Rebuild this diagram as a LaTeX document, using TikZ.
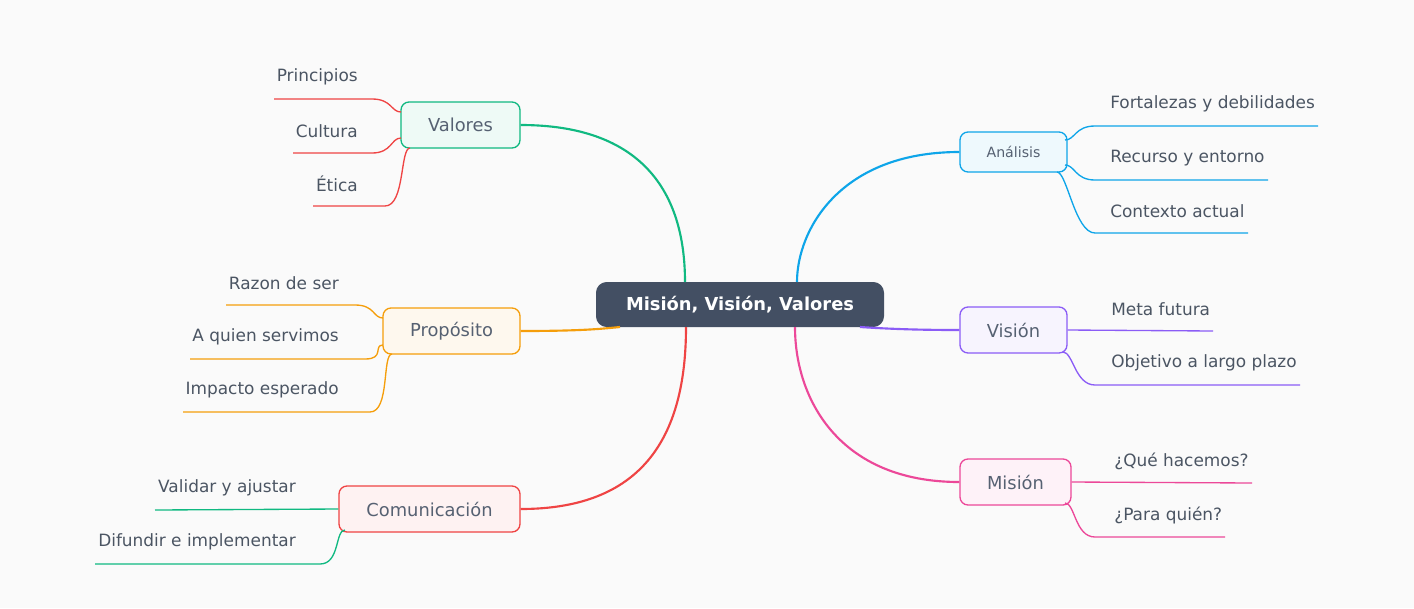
\documentclass[tikz,border=0pt]{standalone}
\usepackage{fontspec}
\setmainfont{DejaVu Sans}
\definecolor{bg}{HTML}{FAFAFA}
\definecolor{txt}{HTML}{4B5563}
\definecolor{ctr}{HTML}{434F63}
\definecolor{cg}{HTML}{10B981}\definecolor{co}{HTML}{F59E0B}\definecolor{cr}{HTML}{EF4444}
\definecolor{cb}{HTML}{0EA5E9}\definecolor{cp}{HTML}{8B5CF6}\definecolor{ck}{HTML}{EC4899}
\begin{document}
\begin{tikzpicture}[x=0.75pt,y=-0.75pt,
  box/.style={draw=#1,fill=#1!7,rounded corners=6pt,line width=1pt,text=ctr!90,font=\fontsize{13.4}{15}\selectfont,inner sep=0pt},
  ll/.style={text=txt,font=\fontsize{12.7}{14}\selectfont,anchor=east,inner sep=0pt},
  rl/.style={text=txt,font=\fontsize{12.7}{14}\selectfont,anchor=west,inner sep=0pt},
  br/.style={line width=1.6pt},
  lf/.style={line width=1pt}]
\fill[bg] (0,0) rectangle (1414,608);
\useasboundingbox (0,0) rectangle (1414,608);
\node[fill=ctr,rounded corners=8pt,minimum width=288*0.75pt,minimum height=45*0.75pt,text=white,font=\bfseries\fontsize{13.4}{15}\selectfont] (c) at (740,304.5) {Misión, Visión, Valores};
\node[box=cg,minimum width=119*0.75pt,minimum height=46*0.75pt] (va) at (460.5,125) {Valores};
\node[box=co,minimum width=137*0.75pt,minimum height=46*0.75pt] (pr) at (451.5,331) {Propósito};
\node[box=cr,minimum width=181*0.75pt,minimum height=46*0.75pt] (cm) at (429.5,509) {Comunicación};
\node[box=cb,minimum width=107*0.75pt,minimum height=40*0.75pt,font=\fontsize{10.6}{12}\selectfont] (an) at (1013.5,152) {Análisis};
\node[box=cp,minimum width=107*0.75pt,minimum height=46*0.75pt] (vi) at (1013.5,330) {Visión};
\node[box=ck,minimum width=111*0.75pt,minimum height=46*0.75pt] (mi) at (1015.5,482) {Misión};
\coordinate (c1) at (685,282);\coordinate (c2) at (620,327);\coordinate (c3) at (686,327);
\coordinate (c4) at (797,282);\coordinate (c5) at (860,327);\coordinate (c6) at (795,327);
\begin{scope}[br]
\draw[cg] (va.east) .. controls (640,125) and (685,190) .. (c1);
\draw[co] (pr.east) .. controls (580,331) and (600,329) .. (c2);
\draw[cr] (cm.east) .. controls (640,509) and (686,440) .. (c3);
\draw[cb] (an.west) .. controls (840,152) and (797,230) .. (c4);
\draw[cp] (vi.west) .. controls (920,330) and (890,329) .. (c5);
\draw[ck] (mi.west) .. controls (840,482) and (795,400) .. (c6);
\end{scope}
\newcommand\lleaf[8]{%
 \node[ll] (#1) at (#4,#5-22) {#3};
 \coordinate (#1a) at (#6,#5); \coordinate (#1b) at (#7,#5);
 \draw[lf,#2] (#1a) -- (#1b) .. controls +(20,0) and +(-10,0) .. (#8);}
\lleaf{p1}{cr}{Principios}{358}{99}{274}{372}{401,112}
\lleaf{p2}{cr}{Cultura}{358}{153}{293}{372}{401,138}
\lleaf{p3}{cr}{Ética}{358}{206}{313}{385}{410,148}
\lleaf{q1}{co}{Razon de ser}{339}{305}{226}{355}{383,318}
\lleaf{q2}{co}{A quien servimos}{339}{359}{190}{365}{383,345}
\lleaf{q3}{co}{Impacto esperado}{339}{412}{183}{370}{392,354}
\node[ll] (r1) at (296,488) {Validar y ajustar};
\coordinate (r1a) at (155,510); \draw[lf,cg] (r1a) -- (cm.west);
\lleaf{r2}{cg}{Difundir e implementar}{296}{564}{95}{320}{345,530}
\newcommand\rleaf[8]{%
 \node[rl] (#1) at (#4,#5-22) {#3};
 \coordinate (#1a) at (#6,#5); \coordinate (#1b) at (#7,#5);
 \draw[lf,#2] (#8) .. controls +(10,0) and +(-20,0) .. (#1b) -- (#1a);}
\rleaf{s1}{cb}{Fortalezas y debilidades}{1110}{126}{1318}{1095}{1065,140}
\rleaf{s2}{cb}{Recurso y entorno}{1110}{180}{1268}{1095}{1065,165}
\rleaf{s3}{cb}{Contexto actual}{1110}{233}{1248}{1095}{1057,172}
\node[rl] (t1) at (1111,309) {Meta futura};
\coordinate (t1a) at (1213,331); \draw[lf,cp] (vi.east) -- (t1a);
\rleaf{t2}{cp}{Objetivo a largo plazo}{1111}{385}{1300}{1095}{1063,352}
\node[rl] (u1) at (1114,461) {¿Qué hacemos?};
\coordinate (u1a) at (1252,483); \draw[lf,ck] (mi.east) -- (u1a);
\rleaf{u2}{ck}{¿Para quién?}{1114}{537}{1225}{1095}{1065,503}
\end{tikzpicture}
\end{document}
